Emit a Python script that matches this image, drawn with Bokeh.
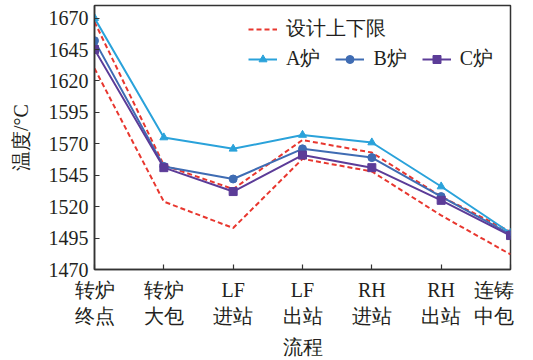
from bokeh.plotting import figure
from bokeh.models import Range1d, FixedTicker, Legend, LegendItem
from bokeh.embed import file_html
from bokeh.resources import INLINE

stages = ["转炉\n终点", "转炉\n大包", "LF\n进站", "LF\n出站", "RH\n进站", "RH\n出站",
          "连铸\u00a0\u00a0\u00a0\u00a0\n中包\u00a0\u00a0\u00a0\u00a0"]
upper = [1667, 1553, 1534, 1573, 1563, 1528, 1500]
lower = [1630, 1524, 1503, 1558, 1548, 1513, 1482]
furnace_a = [1670, 1575, 1566, 1577, 1571, 1536, 1499]
furnace_b = [1652, 1552, 1542, 1566, 1559, 1528, 1498]
furnace_c = [1645, 1551, 1532, 1561, 1551, 1525, 1497]
y_ticks = [1470, 1495, 1520, 1545, 1570, 1595, 1620, 1645, 1670]

FONT = "Liberation Serif"
TXT = "#231f20"
RED = "#e8372f"
CA = "#2aa2da"
CB = "#3f6cb3"
CC = "#5c3c98"

xs = list(range(len(stages)))

p = figure(width=533, height=360, output_backend="svg", toolbar_location=None,
           x_range=Range1d(0, 6), y_range=Range1d(1470, 1680),
           min_border_left=94, min_border_right=23, min_border_top=5, min_border_bottom=91)
p.grid.grid_line_color = None
p.outline_line_color = "#333333"
p.outline_line_width = 1.5
p.background_fill_color = "white"
p.border_fill_color = "white"

r_up = p.line(xs, upper, color=RED, line_width=2, line_dash="5 3")
r_lo = p.line(xs, lower, color=RED, line_width=2, line_dash="5 3")
ra = p.line(xs, furnace_a, color=CA, line_width=2)
ma = p.scatter(xs, furnace_a, marker="triangle", size=8, color=CA)
rb = p.line(xs, furnace_b, color=CB, line_width=2)
mb = p.scatter(xs, furnace_b, marker="circle", size=8, color=CB)
rc = p.line(xs, furnace_c, color=CC, line_width=2)
mc = p.scatter(xs, furnace_c, marker="square", size=8, color=CC)

for ax in (p.xaxis[0], p.yaxis[0]):
    ax.axis_line_color = "#333333"
    ax.axis_line_width = 1.5
    ax.major_tick_line_color = "#333333"
    ax.major_tick_line_width = 1.2
    ax.major_tick_in = 5
    ax.major_tick_out = 0
    ax.minor_tick_line_color = None
    ax.major_label_text_font = FONT
    ax.major_label_text_font_size = "20px"
    ax.major_label_text_color = TXT
    ax.axis_label_text_font = FONT
    ax.axis_label_text_font_size = "20px"
    ax.axis_label_text_font_style = "normal"
    ax.axis_label_text_color = TXT

p.xaxis.ticker = FixedTicker(ticks=xs)
p.xaxis.major_label_overrides = {i: s for i, s in enumerate(stages)}
p.xaxis.major_label_standoff = 9
p.xaxis.axis_label = "流程"
p.xaxis.axis_label_standoff = 6

p.yaxis.ticker = FixedTicker(ticks=y_ticks)
p.yaxis.major_label_standoff = 6
p.yaxis.axis_label = "温度/°C"
p.yaxis.axis_label_standoff = 14

def mk_legend(items, loc, orientation):
    lg = Legend(items=items, location=loc, orientation=orientation,
                label_text_font=FONT, label_text_font_size="20px", label_text_color=TXT,
                glyph_width=29, glyph_height=20, label_height=20, label_standoff=9,
                spacing=15, padding=0, margin=0,
                border_line_color=None, background_fill_alpha=0)
    p.add_layout(lg)
    return lg

mk_legend([LegendItem(label="设计上下限", renderers=[r_up])], (154, 227), "vertical")
mk_legend([LegendItem(label="A炉", renderers=[ra, ma]),
           LegendItem(label="B炉", renderers=[rb, mb]),
           LegendItem(label="C炉", renderers=[rc, mc])], (154, 197), "horizontal")

open("out.html", "w").write(file_html(p, INLINE))
